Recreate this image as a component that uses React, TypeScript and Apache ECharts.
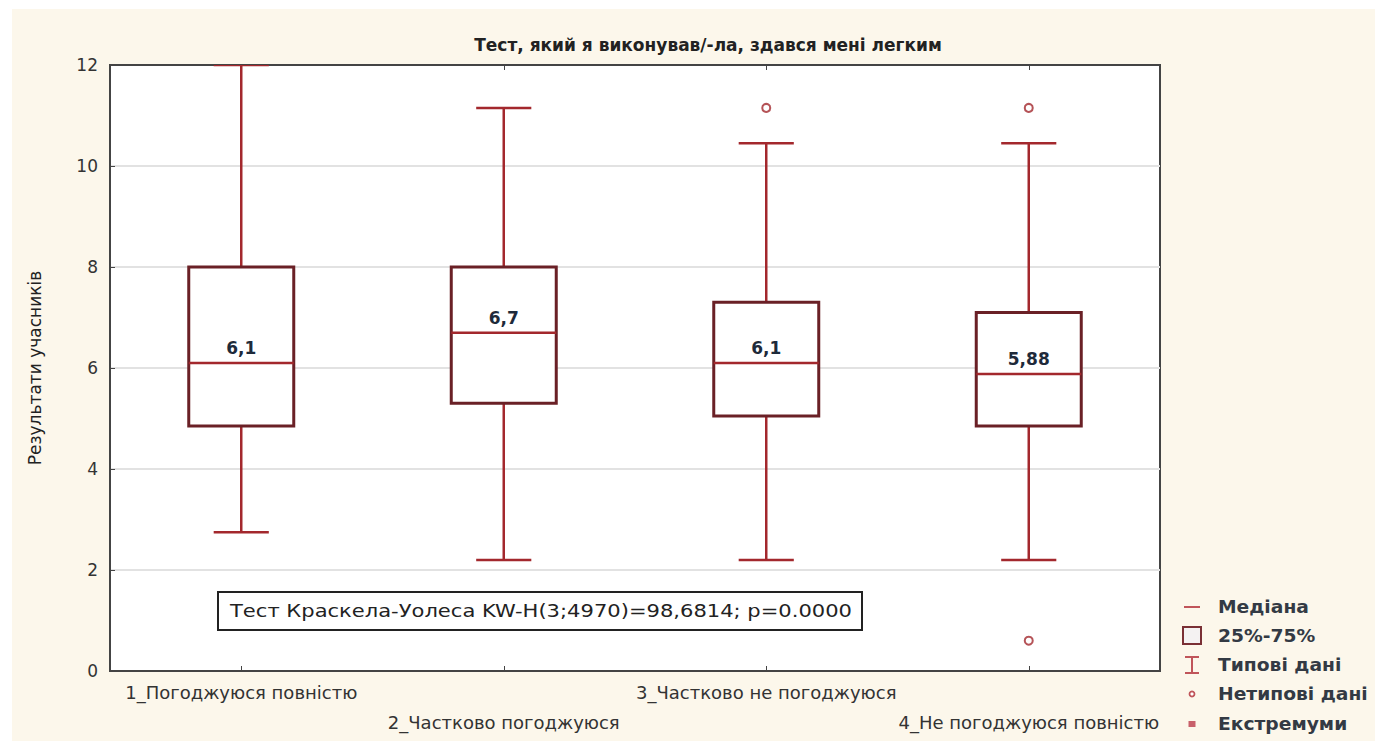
import React, { useEffect, useRef } from "react";
import * as echarts from "echarts";

const categories = [
  "1_Погоджуюся повністю",
  "2_Частково погоджуюся",
  "3_Частково не погоджуюся",
  "4_Не погоджуюся повністю",
];
const whiskerMin = [2.75, 2.2, 2.2, 2.2];
const q1 = [4.85, 5.3, 5.05, 4.85];
const median = [6.1, 6.7, 6.1, 5.88];
const q3 = [8.0, 8.0, 7.3, 7.1];
const whiskerMax = [12.0, 11.15, 10.45, 10.45];
const medianLabels = ["6,1", "6,7", "6,1", "5,88"];
const outliers: [number, number][] = [
  [2, 11.15],
  [3, 11.15],
  [3, 0.6],
];
const yTicks = { min: 0, max: 12, interval: 2 };
const titleText = "Тест, який я виконував/-ла, здався мені легким";
const yName = "Результати учасників";
const testText = "Тест Краскела-Уолеса KW-H(3;4970)=98,6814; p=0.0000";
const legendItems = ["Медіана", "25%-75%", "Типові дані", "Нетипові дані", "Екстремуми"];

const RED = "#a3282d";
const DARK = "#6a2026";
const FONT = "'DejaVu Sans', 'Liberation Sans', Arial, sans-serif";

export default function App() {
  const ref = useRef<HTMLDivElement>(null);
  useEffect(() => {
    if (!ref.current) return;
    const chart = echarts.init(ref.current, null, { renderer: "svg" });
    const boxData = categories.map((_, i) => [i, whiskerMin[i], q1[i], median[i], q3[i], whiskerMax[i]]);

    const legendX = 1192;
    const legendTextX = 1218;
    const legendYs = [607, 636, 665, 694, 724];

    const option: any = {
      animation: false,
      title: {
        text: titleText,
        left: 703,
        top: 31,
        textAlign: "center",
        textStyle: { fontFamily: FONT, fontSize: 17, fontWeight: "bold", color: "#222" },
      },
      grid: {
        left: 110,
        top: 65,
        width: 1050,
        height: 606,
        show: true,
        backgroundColor: "#ffffff",
        borderColor: "#444",
        borderWidth: 2,
      },
      xAxis: [
        {
          type: "category",
          data: categories,
          position: "bottom",
          axisLine: { show: true, lineStyle: { color: "#444", width: 2 } },
          axisTick: { show: true, inside: true, alignWithLabel: true, length: 5, lineStyle: { color: "#444" } },
          axisLabel: {
            interval: 0,
            margin: 6,
            fontFamily: FONT,
            fontSize: 18,
            color: "#333",
            lineHeight: 30,
            formatter: (v: string, idx: number) => (idx % 2 === 1 ? "\n" + v : v),
          },
          splitLine: { show: false },
        },
        {
          type: "category",
          data: categories,
          position: "top",
          axisLine: { show: true, lineStyle: { color: "#444", width: 2 } },
          axisTick: { show: true, inside: true, alignWithLabel: true, length: 5, lineStyle: { color: "#444" } },
          axisLabel: { show: false },
          splitLine: { show: false },
        },
      ],
      yAxis: {
        type: "value",
        min: yTicks.min,
        max: yTicks.max,
        interval: yTicks.interval,
        name: yName,
        nameLocation: "middle",
        nameGap: 67,
        nameTextStyle: { fontFamily: FONT, fontSize: 17, color: "#222" },
        axisLine: { show: true, lineStyle: { color: "#444", width: 2 } },
        axisTick: { show: true, inside: true, length: 5, lineStyle: { color: "#444" } },
        axisLabel: { fontFamily: FONT, fontSize: 17, color: "#333", margin: 12 },
        splitLine: { show: true, lineStyle: { color: "#e2e2e2", width: 2 } },
      },
      series: [
        {
          type: "custom",
          xAxisIndex: 0,
          data: boxData,
          clip: true,
          renderItem: (params: any, api: any) => {
            const i = api.value(0);
            const band = api.size([1, 0])[0];
            const cx = api.coord([i, 0])[0];
            const yMin = api.coord([i, api.value(1)])[1];
            const yQ1 = api.coord([i, api.value(2)])[1];
            const yMed = api.coord([i, api.value(3)])[1];
            const yQ3 = api.coord([i, api.value(4)])[1];
            const yMax = api.coord([i, api.value(5)])[1];
            const halfBox = band * 0.2;
            const halfCap = band * 0.105;
            const wStyle = { stroke: RED, lineWidth: 2.5 };
            return {
              type: "group",
              children: [
                { type: "line", shape: { x1: cx, y1: yQ3, x2: cx, y2: yMax }, style: wStyle },
                { type: "line", shape: { x1: cx - halfCap, y1: yMax, x2: cx + halfCap, y2: yMax }, style: wStyle },
                { type: "line", shape: { x1: cx, y1: yQ1, x2: cx, y2: yMin }, style: wStyle },
                { type: "line", shape: { x1: cx - halfCap, y1: yMin, x2: cx + halfCap, y2: yMin }, style: wStyle },
                {
                  type: "rect",
                  shape: { x: cx - halfBox, y: yQ3, width: halfBox * 2, height: yQ1 - yQ3 },
                  style: { fill: "#ffffff", stroke: DARK, lineWidth: 3 },
                },
                { type: "line", shape: { x1: cx - halfBox, y1: yMed, x2: cx + halfBox, y2: yMed }, style: { stroke: RED, lineWidth: 2.5 } },
                {
                  type: "text",
                  style: {
                    text: medianLabels[params.dataIndex],
                    x: cx,
                    y: yMed - 15,
                    align: "center",
                    verticalAlign: "middle",
                    font: "bold 17px " + FONT,
                    fill: "#1e2a3a",
                  },
                },
              ],
            };
          },
        },
        {
          type: "scatter",
          xAxisIndex: 0,
          data: outliers,
          symbol: "emptyCircle",
          symbolSize: 8,
          itemStyle: { color: RED, borderColor: RED, borderWidth: 2.5 },
          z: 5,
        },
      ],
      graphic: [
        {
          type: "group",
          z: 100,
          children: [
            {
              type: "rect",
              shape: { x: 218, y: 592, width: 644, height: 38 },
              style: { fill: "#ffffff", stroke: "#222", lineWidth: 2 },
            },
            {
              type: "text",
              x: 541,
              y: 611,
              scaleX: 1.17,
              style: {
                text: testText,
                x: 0,
                y: 0,
                align: "center",
                verticalAlign: "middle",
                font: "18px " + FONT,
                fill: "#222",
              },
            },
            // legend icons
            { type: "line", shape: { x1: legendX - 8, y1: legendYs[0], x2: legendX + 8, y2: legendYs[0] }, style: { stroke: "#c0555a", lineWidth: 2 } },
            { type: "rect", shape: { x: legendX - 9, y: legendYs[1] - 9, width: 18, height: 17 }, style: { fill: "#f4f2f2", stroke: "#7a3035", lineWidth: 2 } },
            { type: "line", shape: { x1: legendX, y1: legendYs[2] - 8, x2: legendX, y2: legendYs[2] + 8 }, style: { stroke: "#c0555a", lineWidth: 2 } },
            { type: "line", shape: { x1: legendX - 7, y1: legendYs[2] - 8, x2: legendX + 7, y2: legendYs[2] - 8 }, style: { stroke: "#c0555a", lineWidth: 2 } },
            { type: "line", shape: { x1: legendX - 7, y1: legendYs[2] + 8, x2: legendX + 7, y2: legendYs[2] + 8 }, style: { stroke: "#c0555a", lineWidth: 2 } },
            { type: "circle", shape: { cx: legendX, cy: legendYs[3], r: 2.5 }, style: { fill: "#ffffff", stroke: "#c0555a", lineWidth: 1.8 } },
            { type: "rect", shape: { x: legendX - 3.5, y: legendYs[4] - 3, width: 7, height: 6 }, style: { fill: "#c8606a" } },
            ...legendItems.map((t, k) => ({
              type: "text",
              x: legendTextX,
              y: legendYs[k],
              scaleX: 1.1,
              style: {
                text: t,
                x: 0,
                y: 0,
                align: "left",
                verticalAlign: "middle",
                font: "bold 17px " + FONT,
                fill: "#333a44",
              },
            })),
          ],
        },
      ],
    };
    chart.setOption(option);
    return () => chart.dispose();
  }, []);

  return (
    <div style={{ position: "absolute", left: 0, top: 0, width: 1375, height: 741, background: "#ffffff" }}>
      <div style={{ position: "absolute", left: 12, top: 9, right: 0, bottom: 0, background: "#fcf7eb" }} />
      <div ref={ref} style={{ position: "absolute", left: 0, top: 0, width: 1375, height: 741 }} />
    </div>
  );
}
